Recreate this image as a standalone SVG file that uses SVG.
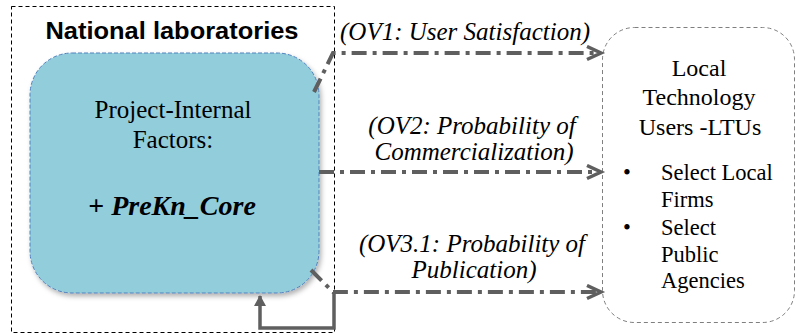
<svg xmlns="http://www.w3.org/2000/svg" width="796" height="335" viewBox="0 0 796 335">
<style>
text{font-family:"Liberation Serif","Times New Roman",Times,serif;fill:#000}
.lbl{font-size:25px;font-style:italic;text-anchor:middle}
.ltu{font-size:24px;text-anchor:middle}
.bul{font-size:22.5px}
.conn{fill:none;stroke:#5f5f5f;stroke-width:4;stroke-dasharray:15 6 4 6}
.fb{fill:none;stroke:#5f5f5f;stroke-width:3.5}
</style>
<defs>
<marker id="chev" markerUnits="userSpaceOnUse" markerWidth="20" markerHeight="20" refX="15" refY="8" orient="auto">
<path d="M1,1.5 L15,8 L1,14.5" fill="none" stroke="#5f5f5f" stroke-width="3.5"/>
</marker>
<marker id="tri" markerUnits="userSpaceOnUse" markerWidth="14" markerHeight="14" refX="10" refY="6" orient="auto">
<path d="M0,0 L11,6 L0,12 Z" fill="#5f5f5f"/>
</marker>
<filter id="sh" x="-10%" y="-10%" width="125%" height="125%">
<feDropShadow dx="2" dy="3" stdDeviation="2.5" flood-color="#000" flood-opacity="0.3"/>
</filter>
</defs>

<g id="national-labs">
<rect x="11.5" y="6.5" width="323" height="326" fill="none" stroke="#000" stroke-width="1" stroke-dasharray="4 3"/>
<text x="172" y="39" style="font-family:'Liberation Sans',Arial,sans-serif" font-weight="bold" font-size="23" text-anchor="middle" textLength="253" lengthAdjust="spacingAndGlyphs">National laboratories</text>
</g>

<g id="project-internal">
<rect x="30" y="53" width="289" height="240" rx="42" ry="42" fill="#92CDDC" stroke="#4F81BD" stroke-width="1" stroke-dasharray="4 2" filter="url(#sh)"/>
<text x="173" y="118" font-size="25" text-anchor="middle">Project-Internal</text>
<text x="173" y="148" font-size="25" text-anchor="middle">Factors:</text>
<text x="172" y="215" font-size="28" text-anchor="middle" font-weight="bold"><tspan>+  </tspan><tspan font-style="italic">PreKn_Core</tspan></text>
</g>

<g id="ltus">
<rect x="602.5" y="27.5" width="192" height="295" rx="32" ry="32" fill="#fff" stroke="#7f7f7f" stroke-width="1" stroke-dasharray="4 3"/>
<text class="ltu" x="699" y="76">Local</text>
<text class="ltu" x="699" y="105">Technology</text>
<text class="ltu" x="700" y="135">Users -LTUs</text>
<text class="bul" x="623" y="180">•</text>
<text class="bul" x="661" y="180">Select Local</text>
<text class="bul" x="661" y="207">Firms</text>
<text class="bul" x="623" y="235">•</text>
<text class="bul" x="661" y="235">Select</text>
<text class="bul" x="661" y="262">Public</text>
<text class="bul" x="661" y="288">Agencies</text>
</g>

<g id="connectors">
<path class="conn" d="M314,92 L333,53 H601" marker-end="url(#chev)"/>
<path class="conn" d="M319,172 H601" marker-end="url(#chev)"/>
<path class="conn" d="M311,270 L333,292 H601" marker-end="url(#chev)"/>
<path class="fb" d="M334,292 V328 H260 V296" marker-end="url(#tri)"/>
<text class="lbl" x="465" y="40">(OV1: User Satisfaction)</text>
<text class="lbl" x="472" y="134">(OV2: Probability of</text>
<text class="lbl" x="474" y="160">Commercialization)</text>
<text class="lbl" x="472" y="252">(OV3.1: Probability of</text>
<text class="lbl" x="474" y="278">Publication)</text>
</g>
</svg>
